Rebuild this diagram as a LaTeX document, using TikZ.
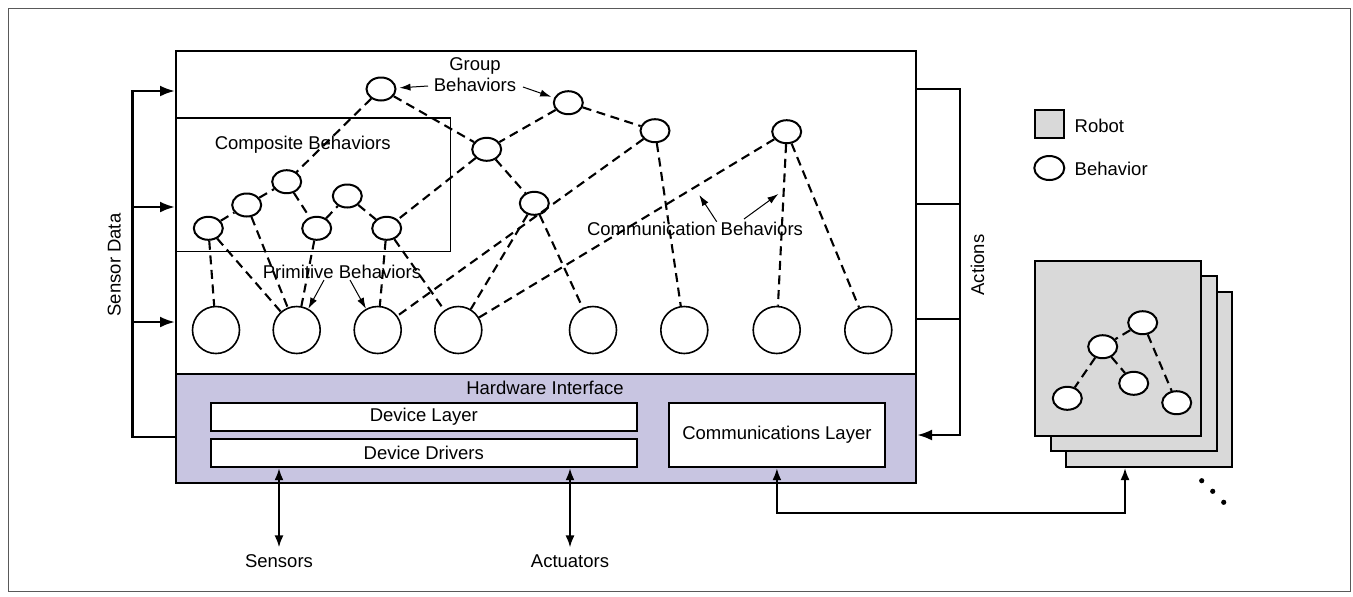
\documentclass[tikz,border=0pt]{standalone}
\usepackage{fontspec}
\setmainfont{Liberation Sans}
\usetikzlibrary{shapes.geometric,arrows.meta}

\definecolor{hwfill}{RGB}{200,197,225}
\definecolor{robfill}{RGB}{217,217,217}

\tikzset{
  panel/.style={draw, line width=1pt, inner sep=0pt, anchor=north west},
  hwpanel/.style={panel, fill=hwfill},
  layerbox/.style={draw, fill=white, line width=1.2pt, inner sep=0pt},
  beh/.style={ellipse, draw, fill=white, line width=1pt, inner sep=0pt,
    minimum width=14.5pt, minimum height=11.5pt},
  prim/.style={circle, draw, fill=white, line width=0.8pt, inner sep=0pt, minimum size=23.5pt},
  link/.style={dash pattern=on 4.5pt off 2.8pt, line width=1.05pt},
  bus/.style={line width=1.3pt},
  busarrow/.style={bus, -{Latex[length=7.5pt,width=5.5pt]}},
  dblarrow/.style={line width=1pt, {Latex[length=6pt,width=4.5pt]}-{Latex[length=6pt,width=4.5pt]}},
  lblarrow/.style={line width=0.5pt, -{Latex[length=5.5pt,width=3.6pt]}},
  robot/.style={draw, fill=robfill, line width=1pt, inner sep=0pt, anchor=north west,
    minimum width=83pt, minimum height=87.5pt},
  dot/.style={circle, fill, inner sep=0pt, minimum size=2.6pt}
}

\begin{document}
\begin{tikzpicture}[x=0.5pt, y=-0.5pt, font=\fontsize{9.25}{10.4}\selectfont]
\useasboundingbox (0,0) rectangle (1353,596);
% outer frame
\draw[gray!70!black, line width=0.5pt] (8.5,8.5) rectangle (1350,591);

% behavior panel and hardware interface
\node[panel, minimum width=370pt, minimum height=161.35pt] (bpan) at (175,50) {};
\node[hwpanel, minimum width=370pt, minimum height=54.5pt] (hw) at (175,372.7) {};
\node (hwlbl) at (545,388) {Hardware Interface};
\node[layerbox, minimum width=213pt, minimum height=14pt] (dlay) at (423.8,417) {Device Layer};
\node[layerbox, minimum width=213pt, minimum height=14pt] (ddrv) at (423.8,453) {Device Drivers};
\node[layerbox, minimum width=107.85pt, minimum height=32pt] (clay) at (776.9,435) {Communications Layer};

% composite behaviors box
\node[panel, line width=0.7pt, minimum width=137.5pt, minimum height=66.7pt] (cbox) at (175,117.3) {};
\node (clbl) at (302.7,145) {Composite Behaviors};

% group behaviors
\node[beh] (g1) at (381,89) {};
\node[beh] (g2) at (568.3,102.7) {};
\node[beh] (g3) at (655,130.7) {};
\node[beh] (g4) at (486.7,149.3) {};
\node[beh] (g5) at (534.3,203.3) {};
\node[beh] (cm) at (786.7,131.7) {};
% composite
\node[beh] (c1) at (208.3,228.3) {};
\node[beh] (c2) at (246.7,205) {};
\node[beh] (c3) at (286.7,181.7) {};
\node[beh] (c4) at (316.7,228.3) {};
\node[beh] (c5) at (347.3,196) {};
\node[beh] (c6) at (386.7,228.3) {};
% primitive
\foreach \n/\x in {1/216,2/296.7,3/377.7,4/458.3,5/593,6/684.3,7/776.7,8/868.3}
  \node[prim] (p\n) at (\x,330) {};

% dashed links
\foreach \a/\b in {c1/c2,c2/c3,c3/c4,c4/c5,c5/c6,g1/c3,g1/g4,g2/g4,g2/g3,g4/g5,g4/c6,
    c1/p1,c1/p2,c2/p2,c4/p2,c6/p3,c6/p4,g3/p3,g5/p4,g5/p5,g3/p6,cm/p4,cm/p7,cm/p8}
  \draw[link] (\a) -- (\b);

% labels with arrows
\node[align=center] (grp) at (475,75) {Group\\Behaviors};
\coordinate (grpA) at (428,86);
\coordinate (grpB) at (523,87);
\draw[lblarrow, shorten >=1.5pt] (grpA) -- (g1);
\draw[lblarrow, shorten >=1.5pt] (grpB) -- (g2);

\node (prm) at (342,271.7) {Primitive Behaviors};
\coordinate (prmA) at (324,280);
\coordinate (prmB) at (350,280);
\draw[lblarrow] (prmA) -- (p2);
\draw[lblarrow] (prmB) -- (p3);

\node (cml) at (695,229) {Communication Behaviors};
\coordinate (cmlA) at (716.7,221.7);
\coordinate (cmlB) at (744,219);
\coordinate (cmTipA) at (699.3,195);
\coordinate (cmTipB) at (778.3,194);
\draw[lblarrow] (cmlA) -- (cmTipA);
\draw[lblarrow] (cmlB) -- (cmTipB);

% sensor data
\coordinate (sdA) at (132.5,91);
\coordinate (sdB) at (132.5,207);
\coordinate (sdC) at (132.5,322);
\coordinate (sdD) at (132.5,437);
\draw[busarrow] (hw.west |- sdD) -- (sdD) -- (sdA) -- (bpan.west |- sdA);
\foreach \c in {sdB,sdC}
  \draw[busarrow] (\c) -- (bpan.west |- \c);
\node[rotate=90] (sdl) at (114.3,265) {Sensor Data};

% actions
\coordinate (acA) at (960,89);
\coordinate (acB) at (960,204);
\coordinate (acC) at (960,319);
\coordinate (acD) at (960,435);
\draw[busarrow] (bpan.east |- acA) -- (acA) -- (acD) -- (hw.east |- acD);
\foreach \c in {acB,acC}
  \draw[bus] (bpan.east |- \c) -- (\c);
\node[rotate=90] (acl) at (977.4,265) {Actions};

% sensors and actuators
\node (sens) at (279,561) {Sensors};
\node (act) at (570,561) {Actuators};
\draw[dblarrow] (ddrv.south -| sens.north) -- (sens.north);
\draw[dblarrow] (ddrv.south -| act.north) -- (act.north);

% robots
\node[robot] (rob3) at (1065,291) {};
\node[robot] (rob2) at (1049.5,275.3) {};
\node[robot] (rob1) at (1034,260) {};
\node[beh] (r1) at (1142.7,322.7) {};
\node[beh] (r2) at (1102.7,346.7) {};
\node[beh] (r3) at (1067.3,398.3) {};
\node[beh] (r4) at (1133.7,383.3) {};
\node[beh] (r5) at (1176.7,402.7) {};
\foreach \a/\b in {r1/r2,r2/r3,r2/r4,r1/r5}
  \draw[link] (\a) -- (\b);
\node[dot] (d1) at (1201.7,480.7) {};
\node[dot] (d2) at (1212.7,491.3) {};
\node[dot] (d3) at (1223.7,502.3) {};

% communication link
\coordinate (rbend) at (1125,513.3);
\draw[dblarrow] (clay.south) |- (rbend) -- (rbend |- rob3.south);

% legend
\node[draw, fill=robfill, line width=0.9pt, inner sep=0pt, minimum width=14.5pt, minimum height=14pt] (lgr) at (1049.5,124.2) {};
\node[anchor=west] (lgrt) at (1067.6,125.7) {Robot};
\node[beh, minimum width=15pt, minimum height=12pt] (lgb) at (1049.3,168) {};
\node[anchor=west] (lgbt) at (1067.6,168.7) {Behavior};
\end{tikzpicture}
\end{document}
